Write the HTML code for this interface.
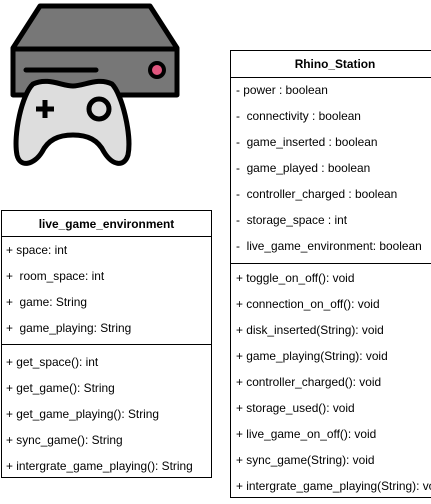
<!DOCTYPE html>
<html><head><style>
body{margin:0;width:431px;height:504px;background:#fff;position:relative;overflow:hidden;font-family:"Liberation Sans",Arial,sans-serif;font-size:11.9px;color:#000}
.box{position:absolute;border:1px solid #000;box-sizing:border-box;background:#fff}
.t{position:absolute;white-space:nowrap;line-height:14px}
.h{font-weight:bold;text-align:center;left:0;right:0}
.l{position:absolute;left:0;right:0;border-top:1px solid #000}
</style></head><body>
<svg width="200" height="180" style="position:absolute;left:0;top:0">
<path d="M40 6 L150 6 L177 48 L177 95 L13 95 L13 48 Z" fill="#777" stroke="#000" stroke-width="5" stroke-linejoin="round"/>
<line x1="13" y1="49" x2="177" y2="49" stroke="#000" stroke-width="5"/>
<line x1="26" y1="70" x2="96" y2="70" stroke="#000" stroke-width="5" stroke-linecap="round"/>
<circle cx="157" cy="70" r="7" fill="#e0567e" stroke="#000" stroke-width="4"/>
<path d="M33 84 C48 77 62 86 73 86 C84 86 98 77 112 84 C122 94 132 135 128 155 C124 168 112 165 104 152 C98 140 88 135 73 135 C58 135 48 140 42 152 C34 165 20 168 17 155 C13 135 22 94 33 84 Z" fill="#ddd" stroke="#000" stroke-width="5" stroke-linejoin="round"/>
<path d="M45 100 V118 M36 109 H54" stroke="#000" stroke-width="5"/>
<circle cx="99" cy="109" r="10" fill="#ddd" stroke="#000" stroke-width="5"/>
</svg>

<div class="box" style="left:230px;top:50px;width:210px;height:448px">
<div class="t h" style="top:6px">Rhino_Station</div>
<div class="l" style="top:26px"></div>
<div class="t" style="left:5px;top:32px">- power : boolean</div>
<div class="t" style="left:5px;top:58px">-&nbsp; connectivity : boolean</div>
<div class="t" style="left:5px;top:84px">-&nbsp; game_inserted : boolean</div>
<div class="t" style="left:5px;top:110px">-&nbsp; game_played : boolean</div>
<div class="t" style="left:5px;top:136px">-&nbsp; controller_charged : boolean</div>
<div class="t" style="left:5px;top:162px">-&nbsp; storage_space : int</div>
<div class="t" style="left:5px;top:188px">-&nbsp; live_game_environment: boolean</div>
<div class="l" style="top:212px"></div>
<div class="t" style="left:5px;top:220px">+ toggle_on_off(): void</div>
<div class="t" style="left:5px;top:246px">+ connection_on_off(): void</div>
<div class="t" style="left:5px;top:272px">+ disk_inserted(String): void</div>
<div class="t" style="left:5px;top:298px">+ game_playing(String): void</div>
<div class="t" style="left:5px;top:324px">+ controller_charged(): void</div>
<div class="t" style="left:5px;top:350px">+ storage_used(): void</div>
<div class="t" style="left:5px;top:376px">+ live_game_on_off(): void</div>
<div class="t" style="left:5px;top:402px">+ sync_game(String): void</div>
<div class="t" style="left:5px;top:428px">+ intergrate_game_playing(String): void</div>
</div>

<div class="box" style="left:1px;top:210px;width:211px;height:268px">
<div class="t h" style="top:6px">live_game_environment</div>
<div class="l" style="top:25px"></div>
<div class="t" style="left:4px;top:32px">+ space: int</div>
<div class="t" style="left:4px;top:58px">+&nbsp; room_space: int</div>
<div class="t" style="left:4px;top:84px">+&nbsp; game: String</div>
<div class="t" style="left:4px;top:110px">+&nbsp; game_playing: String</div>
<div class="l" style="top:133px"></div>
<div class="t" style="left:4px;top:144px">+ get_space(): int</div>
<div class="t" style="left:4px;top:170px">+ get_game(): String</div>
<div class="t" style="left:4px;top:196px">+ get_game_playing(): String</div>
<div class="t" style="left:4px;top:222px">+ sync_game(): String</div>
<div class="t" style="left:4px;top:248px">+ intergrate_game_playing(): String</div>
</div>
</body></html>
